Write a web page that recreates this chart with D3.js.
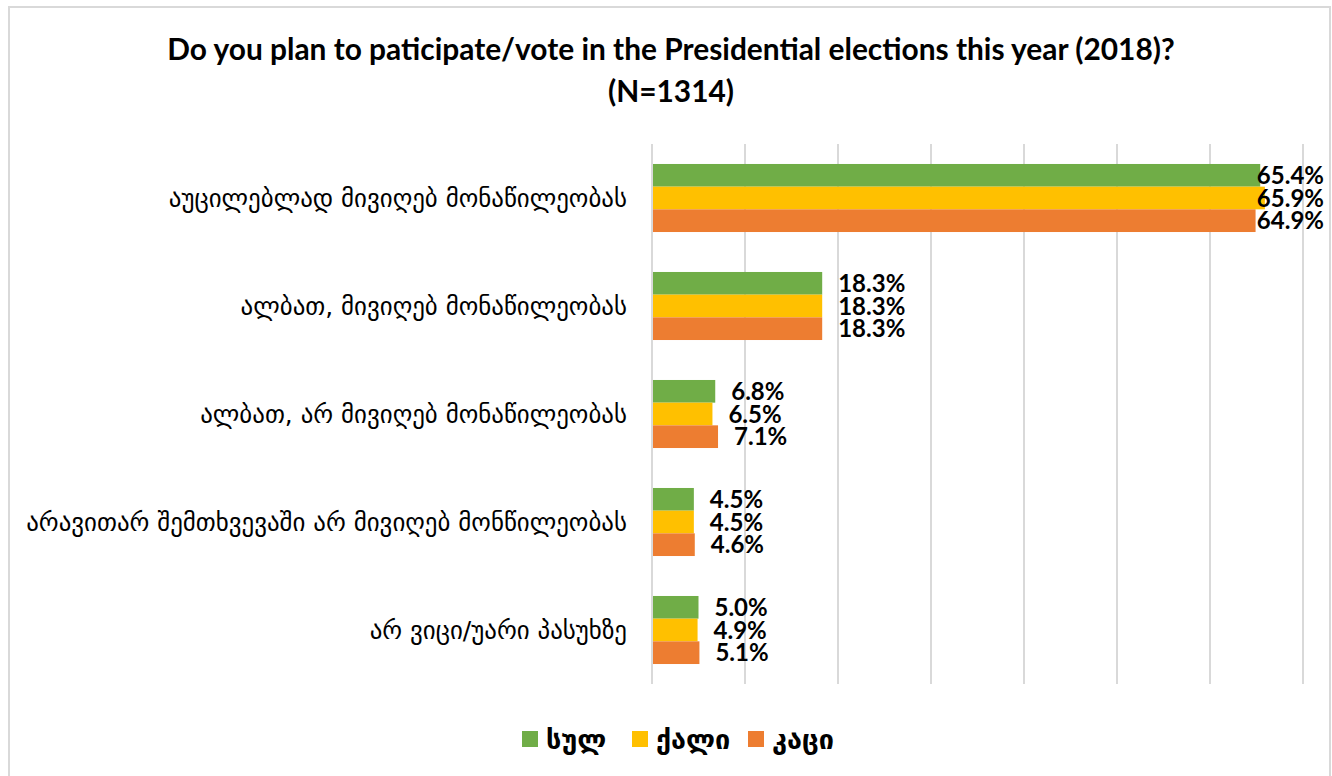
<!DOCTYPE html>
<html><head><meta charset="utf-8">
<script src="https://cdn.jsdelivr.net/npm/d3@7"></script>
<style>body{margin:0;background:#fff}svg{display:block}</style>
</head><body>
<svg id="c" width="1332" height="776"></svg>
<script>
const categories = [
  "აუცილებლად მივიღებ მონაწილეობას",
  "ალბათ, მივიღებ მონაწილეობას",
  "ალბათ, არ მივიღებ მონაწილეობას",
  "არავითარ შემთხვევაში არ მივიღებ მონწილეობას",
  "არ ვიცი/უარი პასუხზე"
];
const seriesNames = ["სულ", "ქალი", "კაცი"];
const seriesColors = ["#70AD47", "#FFC000", "#ED7D31"];
const total = [65.4, 18.3, 6.8, 4.5, 5.0];
const women = [65.9, 18.3, 6.5, 4.5, 4.9];
const men   = [64.9, 18.3, 7.1, 4.6, 5.1];
const seriesValues = [total, women, men];
const xTicks = [0, 10, 20, 30, 40, 50, 60, 70];
const titleLines = ["Do you plan to paticipate/vote in the Presidential elections this year (2018)?", "(N=1314)"];

const svg = d3.select("#c");
const plot = {left: 652, right: 1303, top: 144, bottom: 684};

// border
svg.append("rect").attr("x", 9).attr("y", 7).attr("width", 1321).attr("height", 800)
  .attr("fill", "#fff").attr("stroke", "#d9d9d9").attr("stroke-width", 2);

const x = d3.scaleLinear().domain([0, 70]).range([plot.left, plot.right]);
const y = d3.scaleBand().domain(categories).range([plot.top, plot.bottom]).paddingInner(0.37).paddingOuter(0.185);
const ys = d3.scaleBand().domain(seriesNames).range([0, y.bandwidth()]);

// gridlines
svg.append("g").selectAll("line").data(xTicks).join("line")
  .attr("x1", d => x(d)).attr("x2", d => x(d))
  .attr("y1", plot.top).attr("y2", plot.bottom)
  .attr("stroke", "#d9d9d9").attr("stroke-width", 2);

// bars
const groups = svg.append("g").selectAll("g").data(categories).join("g")
  .attr("transform", d => `translate(0,${y(d)})`);
groups.each(function(cat, ci) {
  const g = d3.select(this);
  seriesNames.forEach((s, si) => {
    const v = seriesValues[si][ci];
    g.append("rect").attr("x", x(0) + 1).attr("y", ys(s))
      .attr("width", x(v) - x(0) - 1).attr("height", ys.bandwidth())
      .attr("fill", seriesColors[si]);
  });
});
// labels
groups.each(function(cat, ci) {
  const g = d3.select(this);
  seriesNames.forEach((s, si) => {
    const v = seriesValues[si][ci];
    const t = g.append("text").attr("y", ys(s) + ys.bandwidth() / 2)
      .attr("dy", "0.36em")
      .attr("font-family", "Lato, 'Open Sans', sans-serif").attr("font-weight", "bold")
      .attr("font-size", 24).attr("fill", "#000")
      .text(v.toFixed(1) + "%");
    const w = t.node().getComputedTextLength();
    const px = Math.min(x(v) + 16, 1324 - w);
    t.attr("x", px);
  });
});

// category labels
const catTexts = svg.append("g").selectAll("text").data(categories).join("text")
  .attr("x", 627).attr("y", d => y(d) + y.bandwidth() / 2)
  .attr("dy", "0.35em").attr("text-anchor", "end")
  .attr("font-family", "'DejaVu Sans', sans-serif").attr("font-size", 20).attr("fill", "#000")
  .text(d => d);
let maxW = 0;
catTexts.each(function(){ maxW = Math.max(maxW, this.getComputedTextLength()); });
catTexts.attr("font-size", 20 * 601 / maxW);

// title
const t1 = svg.append("text").attr("x", 671).attr("y", 60).attr("text-anchor", "middle")
  .attr("font-family", "Lato, sans-serif").attr("font-weight", "bold").attr("font-size", 24)
  .attr("fill", "#000").text(titleLines[0]);
const tSize = 24 * 1008 / t1.node().getComputedTextLength();
t1.attr("font-size", tSize);
svg.append("text").attr("x", 671).attr("y", 102).attr("text-anchor", "middle")
  .attr("font-family", "Lato, sans-serif").attr("font-weight", "bold").attr("font-size", tSize)
  .attr("fill", "#000").text(titleLines[1]);

// legend
const legX = [522, 632, 748];
const leg = svg.append("g");
seriesNames.forEach((s, i) => {
  leg.append("rect").attr("x", legX[i]).attr("y", 731).attr("width", 16).attr("height", 16)
    .attr("fill", seriesColors[i]);
  leg.append("text").attr("x", legX[i] + 24).attr("y", 740).attr("dy", "0.35em")
    .attr("font-family", "'DejaVu Sans', sans-serif").attr("font-weight", "bold")
    .attr("font-size", 27).attr("fill", "#000")
    .text(s);
});
</script>
</body></html>
